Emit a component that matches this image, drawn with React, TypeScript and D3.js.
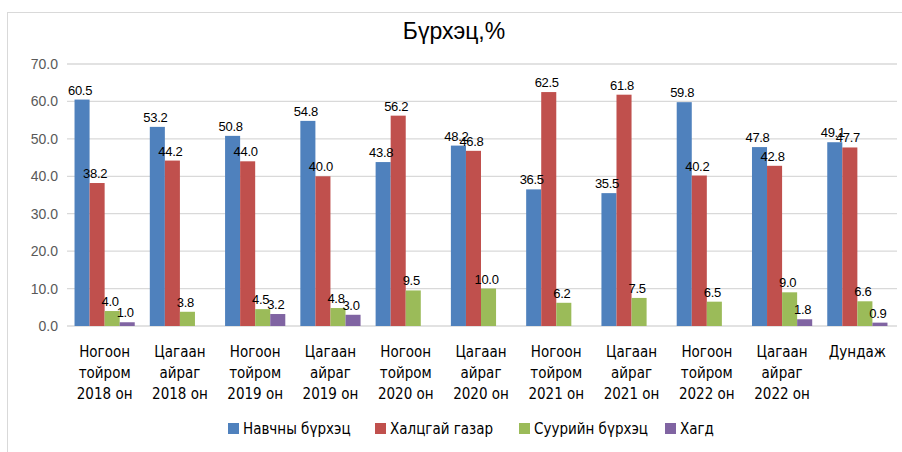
import React from "react";
import * as d3 from "d3";

const categories = [
  ["Ногоон", "тойром", "2018 он"],
  ["Цагаан", "айраг", "2018 он"],
  ["Ногоон", "тойром", "2019 он"],
  ["Цагаан", "айраг", "2019 он"],
  ["Ногоон", "тойром", "2020 он"],
  ["Цагаан", "айраг", "2020 он"],
  ["Ногоон", "тойром", "2021 он"],
  ["Цагаан", "айраг", "2021 он"],
  ["Ногоон", "тойром", "2022 он"],
  ["Цагаан", "айраг", "2022 он"],
  ["Дундаж"],
];

const seriesNames = ["Навчны бүрхэц", "Халцгай газар", "Суурийн бүрхэц", "Хагд"];
const seriesColors = ["#4F81BD", "#C0504D", "#9BBB59", "#8064A2"];

const leafCover = [60.5, 53.2, 50.8, 54.8, 43.8, 48.2, 36.5, 35.5, 59.8, 47.8, 49.1];
const bareGround = [38.2, 44.2, 44.0, 40.0, 56.2, 46.8, 62.5, 61.8, 40.2, 42.8, 47.7];
const baseCover = [4.0, 3.8, 4.5, 4.8, 9.5, 10.0, 6.2, 7.5, 6.5, 9.0, 6.6];
const litter: (number | null)[] = [1.0, null, 3.2, 3.0, null, null, null, null, null, 1.8, 0.9];

const yTicks = [0, 10, 20, 30, 40, 50, 60, 70];

const W = 902;
const H = 452;
const margin = { top: 64, right: 7, bottom: 126, left: 67 };

const App: React.FC = () => {
  const series = [leafCover, bareGround, baseCover, litter];
  const keys = categories.map((c, i) => String(i));

  const x0 = d3
    .scaleBand()
    .domain(keys)
    .range([margin.left, W - margin.right])
    .paddingInner(0.2)
    .paddingOuter(0.1);

  const x1 = d3
    .scaleBand()
    .domain(seriesNames)
    .range([0, x0.bandwidth()]);

  const y = d3
    .scaleLinear()
    .domain([0, 70])
    .range([H - margin.bottom, margin.top]);

  const fontNum = "'Liberation Sans', Arial, sans-serif";
  const fontNarrow = "'Liberation Sans Narrow', 'DejaVu Sans Condensed', sans-serif";

  const center = (i: number) => x0(String(i))! + x0.bandwidth() / 2;

  return (
    <svg
      width={W}
      height={H}
      style={{ position: "absolute", left: 0, top: 0, background: "#fff" }}
    >
      {/* chart frame */}
      <rect x={7.5} y={12.5} width={900} height={445} fill="#fff" stroke="#D9D9D9" />

      {/* title */}
      <text
        x={454}
        y={39}
        textAnchor="middle"
        fontFamily={fontNum}
        fontSize={23}
        fill="#000"
      >
        Бүрхэц,%
      </text>

      {/* gridlines + y axis labels */}
      {yTicks.map((t) => (
        <g key={t}>
          <line
            x1={margin.left}
            x2={W - margin.right + 2}
            y1={y(t)}
            y2={y(t)}
            stroke="#D9D9D9"
            strokeWidth={1.3}
          />
          <text
            x={58}
            y={y(t) + 5}
            textAnchor="end"
            fontFamily={fontNum}
            fontSize={14}
            fill="#595959"
          >
            {t.toFixed(1)}
          </text>
        </g>
      ))}

      {/* bars */}
      {series.map((vals, si) =>
        vals.map((v, ci) =>
          v == null ? null : (
            <rect
              key={`b-${si}-${ci}`}
              x={x0(String(ci))! + x1(seriesNames[si])!}
              y={y(v)}
              width={x1.bandwidth()}
              height={y(0) - y(v)}
              fill={seriesColors[si]}
            />
          )
        )
      )}

      {/* data labels */}
      {series.map((vals, si) =>
        vals.map((v, ci) =>
          v == null ? null : (
            <text
              key={`l-${si}-${ci}`}
              x={x0(String(ci))! + x1(seriesNames[si])! + x1.bandwidth() / 2 - 2}
              y={y(v) - 5}
              textAnchor="middle"
              fontFamily={fontNum}
              fontSize={13}
              letterSpacing={-0.3}
              fill="#000"
            >
              {v.toFixed(1)}
            </text>
          )
        )
      )}

      {/* x axis labels */}
      {categories.map((lines, ci) => (
        <text
          key={`x-${ci}`}
          x={center(ci)}
          y={357}
          textAnchor="middle"
          fontFamily={fontNarrow}
          fontSize={15}
          fill="#000"
        >
          {lines.map((ln, li) => (
            <tspan key={li} x={center(ci)} dy={li === 0 ? 0 : 21}>
              {ln}
            </tspan>
          ))}
        </text>
      ))}

      {/* legend */}
      {seriesNames.map((name, si) => {
        const lx = [228, 375, 519, 665][si];
        return (
          <g key={name} transform={`translate(${lx},${423})`}>
            <rect width={11} height={11} fill={seriesColors[si]} />
            <text
              x={15}
              y={11}
              fontFamily={fontNarrow}
              fontSize={15}
              fill="#000"
            >
              {name}
            </text>
          </g>
        );
      })}
    </svg>
  );
};

export default App;
